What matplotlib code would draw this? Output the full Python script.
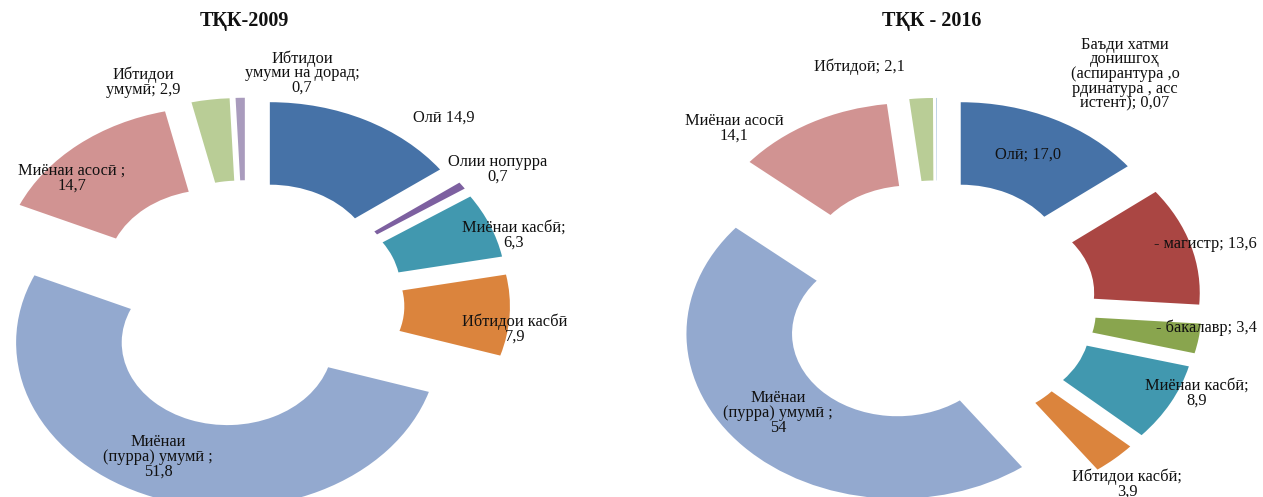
import matplotlib
matplotlib.use("Agg")
import matplotlib.pyplot as plt

plt.rcParams['font.family'] = ['Liberation Serif', 'DejaVu Serif']

# ---------------- data ----------------
titles = ["ТҚК-2009", "ТҚК - 2016"]

names_2009 = ["Олӣ ", "Олии нопурра\n", "Миёнаи касбӣ;\n", "Ибтидои касбӣ\n",
              "Миёнаи\n(пурра) умумӣ ;\n", "Миёнаи асосӣ ;\n", "Ибтидои\nумумӣ; ",
              "Ибтидои\nумуми на дорад;\n"]
values_2009 = [14.9, 0.7, 6.3, 7.9, 51.8, 14.7, 2.9, 0.7]
colors_2009 = ["#4672A7", "#7D60A0", "#4198AF", "#DB843D", "#93A9CF", "#D19392",
               "#B9CD96", "#A99BBD"]

names_2016 = ["Олӣ; ", "- магистр; ", "- бакалавр; ", "Миёнаи касбӣ;\n",
              "Ибтидои касбӣ;\n", "Миёнаи\n(пурра) умумӣ ;\n", "Миёнаи асосӣ\n",
              "Ибтидоӣ; ", "Баъди хатми\nдонишгоҳ\n(аспирантура ,о\nрдинатура , асс\nистент); "]
values_2016 = [17.0, 13.6, 3.4, 8.9, 3.9, 54, 14.1, 2.1, 0.07]
colors_2016 = ["#4672A7", "#AA4643", "#89A54E", "#4198AF", "#DB843D", "#93A9CF",
               "#D19392", "#B9CD96", "#A9C4DE"]

# ---------------- layout ----------------
W, H = 1263, 497
R_PX = 165.0          # ring outer radius (vertical pixels)
SX = 1.28             # horizontal stretch of the original picture
UX, UY = R_PX * SX, R_PX

def P(px, py):
    return px / UX, -py / UY

centers_px = [(246, 304), (937, 305)]
explodes = [0.25, 0.255]
title_px = [(244, 21), (932, 21)]
label_px_2009 = [(444, 118), (498, 169), (514, 235), (515, 329), (158, 457),
                 (72, 178), (143, 82), (302, 73)]
label_px_2016 = [(1028, 155), (1205, 244), (1206, 328), (1197, 393), (1127, 484),
                 (778, 413), (734, 128), (859, 67), (1125, 74)]

fig = plt.figure(figsize=(W / 100, H / 100), dpi=100)
ax = fig.add_axes([0, 0, 1, 1])

def fmt(v):
    return str(v).replace('.', ',')

charts = [(values_2009, colors_2009, names_2009, label_px_2009),
          (values_2016, colors_2016, names_2016, label_px_2016)]

for (vals, cols, names, lpos), cpx, ex, tpx, title in zip(charts, centers_px, explodes,
                                                          title_px, titles):
    ax.pie(vals, colors=cols, startangle=90, counterclock=False, radius=1.0,
           center=P(*cpx), explode=[ex] * len(vals), normalize=True,
           wedgeprops=dict(width=0.5, linewidth=0))
    for name, v, (lx, ly) in zip(names, vals, lpos):
        ax.text(*P(lx, ly), name + fmt(v), ha='center', va='center',
                multialignment='center', fontsize=11.8, linespacing=0.88,
                color='#111111')
    ax.text(*P(*tpx), title, ha='center', va='center', fontsize=14.5,
            fontweight='bold', color='#111111')

ax.set_aspect('auto')
ax.set_xlim(0, W / UX)
ax.set_ylim(-H / UY, 0)
ax.axis('off')

fig.savefig("out.png", dpi=100, facecolor='white')
